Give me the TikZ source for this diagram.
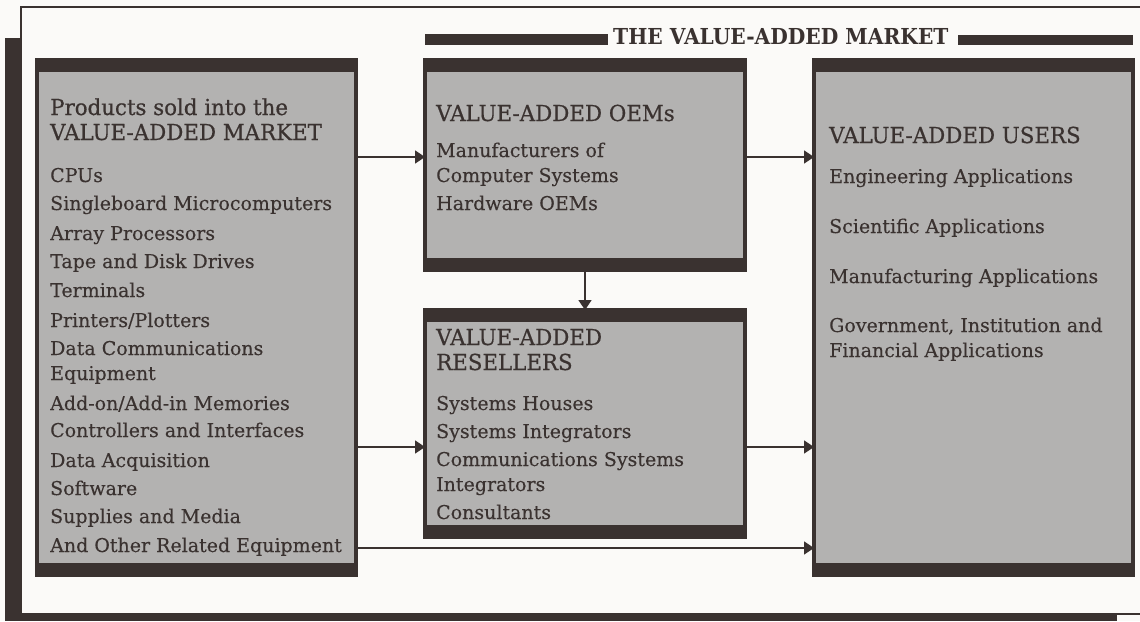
\documentclass[tikz,border=0pt]{standalone}
\usepackage{fontspec}
\setmainfont{DejaVu Serif}[FakeBold=0.25]
\newfontfamily\bodyfont[FakeBold=0.25]{DejaVu Serif}
\newfontfamily\hdfont[FakeStretch=0.97,FakeBold=0.6]{DejaVu Serif}
\newfontfamily\ttlfont[FakeStretch=0.92]{DejaVu Serif}
\usetikzlibrary{arrows.meta}
\definecolor{ink}{HTML}{3A3230}
\definecolor{boxgray}{HTML}{B3B2B1}
\definecolor{paper}{HTML}{FBFAF8}
\tikzset{
  panel/.style={draw=ink, fill=boxgray, line width=4pt, anchor=north west, inner sep=0pt, outer sep=0pt},
  band/.style={fill=ink},
  ln/.style={anchor=base west, inner sep=0pt, text=ink, font=\bodyfont\fontsize{19}{19}\selectfont},
  hd/.style={anchor=base west, inner sep=0pt, text=ink, font=\hdfont\fontsize{22}{22}\selectfont},
  flow/.style={draw=ink, line width=1.7pt, -{Triangle[length=10pt,width=13pt]}},
}
\begin{document}
\begin{tikzpicture}[x=1pt,y=-1pt]
\useasboundingbox[fill=paper] (0,0) rectangle (1140,621);
% outer frame with shadow
\fill[ink] (5,38) rectangle (21,621);
\fill[ink] (5,613) rectangle (1117,621);
\draw[ink, line width=2.5pt] (1140,7) -- (21,7) -- (21,614) -- (1140,614);
% title
\fill[ink] (425,34) rectangle (608,45);
\fill[ink] (958,35) rectangle (1133,45);
\node[anchor=base west, inner sep=0pt, text=ink, font=\ttlfont\bfseries\fontsize{22}{22}\selectfont] (title) at (613,44) {THE VALUE-ADDED MARKET};
% boxes
\node[panel, minimum width=319pt, minimum height=515pt] (prod) at (37,60) {};
\node[panel, minimum width=320pt, minimum height=210pt] (oem) at (425,60) {};
\node[panel, minimum width=320pt, minimum height=227pt] (var) at (425,310) {};
\node[panel, minimum width=319pt, minimum height=515pt] (user) at (814,60) {};
\foreach \b in {prod,oem,var,user}{
  \fill[band] (\b.north west) rectangle ([yshift=-12pt]\b.north east);
  \fill[band] ([yshift=12pt]\b.south west) rectangle (\b.south east);
}
% left box text
\node[hd] (p0) at (50,115) {Products sold into the};
\node[hd] (p1) at (50,140) {VALUE-ADDED MARKET};
\foreach \y/\t [count=\i] in {182/{CPUs},210/{Singleboard Microcomputers},240/{Array Processors},268/{Tape and Disk Drives},297/{Terminals},327/{Printers/Plotters},355/{Data Communications},380/{Equipment},410/{Add-on/Add-in Memories},437/{Controllers and Interfaces},467/{Data Acquisition},495/{Software},523/{Supplies and Media},552/{And Other Related Equipment}}
  \node[ln] (pi\i) at (50,\y) {\t};
% OEM box text
\node[hd] (o0) at (436,121) {VALUE-ADDED OEMs};
\node[ln] (o1) at (436,157) {Manufacturers of};
\node[ln] (o2) at (436,182) {Computer Systems};
\node[ln] (o3) at (436,210) {Hardware OEMs};
% VAR box text
\node[hd] (v0) at (436,345) {VALUE-ADDED};
\node[hd] (v1) at (436,370) {RESELLERS};
\node[ln] (v2) at (436,410) {Systems Houses};
\node[ln] (v3) at (436,438) {Systems Integrators};
\node[ln] (v4) at (436,466) {Communications Systems};
\node[ln] (v5) at (436,491) {Integrators};
\node[ln] (v6) at (436,519) {Consultants};
% user box text
\node[hd] (u0) at (829,143) {VALUE-ADDED USERS};
\node[ln] (u1) at (829,183) {Engineering Applications};
\node[ln] (u2) at (829,233) {Scientific Applications};
\node[ln] (u3) at (829,283) {Manufacturing Applications};
\node[ln] (u4) at (829,332) {Government, Institution and};
\node[ln] (u5) at (829,357) {Financial Applications};
% connectors
\coordinate (a1) at (356,157);
\draw[flow] (a1) -- (a1 -| oem.west);
\coordinate (a2) at (745,157);
\draw[flow] (a2) -- (a2 -| user.west);
\draw[flow] (oem.south) -- (var.north);
\coordinate (a3) at (356,447);
\draw[flow] (a3) -- (a3 -| var.west);
\coordinate (a4) at (745,447);
\draw[flow] (a4) -- (a4 -| user.west);
\coordinate (a5) at (356,548);
\draw[flow] (a5) -- (a5 -| user.west);
\end{tikzpicture}
\end{document}
